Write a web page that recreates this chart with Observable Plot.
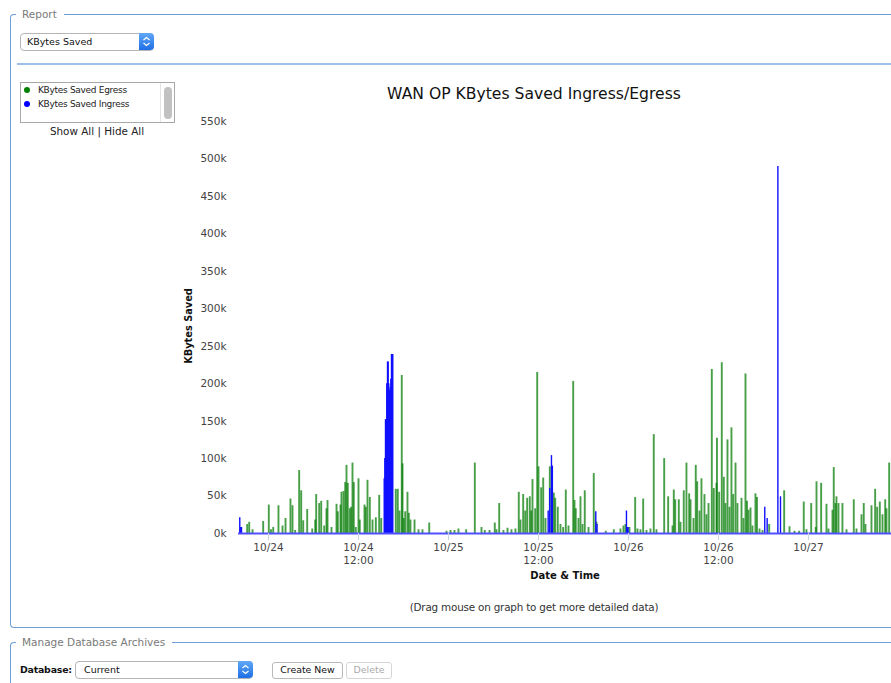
<!DOCTYPE html>
<html>
<head>
<meta charset="utf-8">
<script src="https://cdn.jsdelivr.net/npm/d3@7"></script>
<script src="https://cdn.jsdelivr.net/npm/@observablehq/plot@0.6"></script>
<style>
  body { margin:0; width:891px; height:683px; position:relative; overflow:hidden; background:#fff; font-family:"DejaVu Sans", sans-serif; color:#222; }
  .abs { position:absolute; }
  .fs { border:1px solid #6c9fd6; border-right:none; border-radius:4px 0 0 4px; box-sizing:border-box; }
  .legend { background:#fff; color:#7a7a7a; font-size:10.5px; line-height:14px; padding:0 7px 0 6px; white-space:nowrap; }
  .sel { border:1px solid #b5b5b5; border-radius:4px; background:#fff; box-sizing:border-box; font-size:9.5px; line-height:15px; padding-left:6px; color:#111; white-space:nowrap; }
  .selbtn { position:absolute; right:-1px; top:-1px; width:15px; height:17px; border-radius:0 4px 4px 0; background:linear-gradient(#62a8f7,#1e6fe6); }
  .btn { border:1px solid #b9b9b9; border-radius:3px; background:#fff; box-sizing:border-box; font-size:9.4px; line-height:14px; text-align:center; white-space:nowrap; }
  #chart svg { overflow:visible; }
</style>
</head>
<body>
<!-- Report fieldset -->
<div class="abs fs" style="left:10px;top:14px;width:900px;height:614px;"></div>
<div class="abs legend" style="left:16px;top:7px;">Report</div>
<div class="abs sel" style="left:20px;top:33px;width:134px;height:18px;">KBytes Saved
  <div class="selbtn"><svg width="15" height="17"><path d="M4.5 7 L7.5 4.5 L10.5 7 M4.5 10 L7.5 12.5 L10.5 10" fill="none" stroke="#fff" stroke-width="1.2"/></svg></div>
</div>
<div class="abs" style="left:17px;top:63px;width:880px;height:2px;background:#9dc1e8;"></div>

<!-- legend box -->
<div class="abs" style="left:20px;top:82px;width:155px;height:41px;border:1px solid #a8a8a8;box-sizing:border-box;">
  <div class="abs" style="left:3px;top:4px;width:6px;height:6px;border-radius:3px;background:#008000;"></div>
  <div class="abs" style="left:17px;top:1px;font-size:9px;letter-spacing:-0.3px;line-height:12px;white-space:nowrap;color:#222;">KBytes Saved Egress</div>
  <div class="abs" style="left:3px;top:18px;width:6px;height:6px;border-radius:3px;background:#0000ff;"></div>
  <div class="abs" style="left:17px;top:15px;font-size:9px;letter-spacing:-0.3px;line-height:12px;white-space:nowrap;color:#222;">KBytes Saved Ingress</div>
  <div class="abs" style="left:139px;top:0;width:1px;height:39px;background:#e4e4e4;"></div>
  <div class="abs" style="left:143px;top:4px;width:8px;height:32px;border-radius:4px;background:#c1c1c1;"></div>
</div>
<div class="abs" style="left:97px;top:124px;transform:translateX(-50%);font-size:10.4px;line-height:14px;white-space:nowrap;color:#222;">Show All | Hide All</div>

<!-- chart texts -->
<div class="abs" style="left:534px;top:85px;transform:translateX(-50%);font-size:15.6px;line-height:18px;white-space:nowrap;color:#111;">WAN OP KBytes Saved Ingress/Egress</div>
<div class="abs" style="left:188px;top:326px;transform:translate(-50%,-50%) rotate(-90deg);font-size:9.8px;font-weight:bold;white-space:nowrap;color:#111;">KBytes Saved</div>
<div class="abs" style="left:565px;top:569px;transform:translateX(-50%);font-size:10px;font-weight:bold;line-height:14px;white-space:nowrap;color:#111;">Date &amp; Time</div>
<div class="abs" style="left:534px;top:600px;transform:translateX(-50%);font-size:10.4px;letter-spacing:-0.2px;line-height:14px;white-space:nowrap;color:#333;">(Drag mouse on graph to get more detailed data)</div>

<div id="chart" class="abs" style="left:0;top:110px;"></div>

<!-- Manage Database Archives fieldset -->
<div class="abs fs" style="left:10px;top:642px;width:900px;height:80px;"></div>
<div class="abs legend" style="left:16px;top:635px;">Manage Database Archives</div>
<div class="abs" style="left:20px;top:663px;font-size:9.4px;font-weight:bold;letter-spacing:-0.2px;line-height:14px;color:#111;">Database:</div>
<div class="abs sel" style="left:75px;top:661px;width:178px;height:18px;padding-left:8px;">Current
  <div class="selbtn"><svg width="15" height="17"><path d="M4.5 7 L7.5 4.5 L10.5 7 M4.5 10 L7.5 12.5 L10.5 10" fill="none" stroke="#fff" stroke-width="1.2"/></svg></div>
</div>
<div class="abs btn" style="left:272px;top:662px;width:71px;height:17px;color:#111;">Create New</div>
<div class="abs btn" style="left:346px;top:662px;width:46px;height:17px;color:#aaa;border-color:#d6d6d6;">Delete</div>

<script>
// Time axis: hours relative to 10/24 00:00
const startHour = -4;        // 10/23 20:00
const endHour = 83.07;       // ~10/27 11:00
const xTickHours = [0, 12, 24, 36, 48, 60, 72];
const yTicksK = [0, 50, 100, 150, 200, 250, 300, 350, 400, 450, 500, 550];

// KBytes Saved Egress: [hour, kbytes (thousands)]
const egress = [[-2.84,12],[-2.57,15],[-2.13,5],[-0.71,16],[0.04,38],[0.33,5],[0.63,8],[1.33,37],[1.87,10],[2.27,20],[2.93,46],[3.2,37],[3.56,4],[4.09,84],[4.36,57],[4.63,17],[5.16,32],[5.83,6],[6.23,18],[6.36,52],[6.76,40],[7.03,43],[7.43,10],[7.73,33],[7.87,44],[8.4,8],[9.07,39],[9.24,29],[9.6,38],[9.73,55],[10.0,56],[10.23,68],[10.4,91],[10.57,67],[10.84,33],[11.03,35],[11.2,94],[11.37,68],[11.64,8],[12.0,73],[12.17,18],[12.8,38],[12.97,35],[13.2,71],[13.51,48],[13.87,18],[14.31,21],[14.76,51],[15.03,20],
[16.97,59],[17.24,59],[17.47,30],[17.77,211],[17.87,93],[18.04,20],[18.23,29],[18.53,55],[18.71,27],[18.93,18],[19.47,18],[20.0,5],[20.53,5],[21.43,14],[23.73,3],[24.27,4],[24.8,4],[25.33,6],[26.36,5],[27.51,94],[28.4,8],[28.84,4],[29.47,4],[30.17,14],[30.4,5],[30.76,40],[31.33,4],[31.87,7],[32.4,5],[32.93,6],[33.37,55],[33.6,18],[33.96,52],[34.23,30],[34.49,47],[34.84,49],[35.03,30],[35.2,72],[35.56,33],[35.83,215],[36.0,89],[36.36,61],[36.63,74],[36.93,20],[37.51,89],[38.04,54],[38.23,47],[38.57,35],[38.93,12],[39.29,8],[39.64,58],[40.0,10],[40.63,203],[40.8,44],[40.97,33],[41.33,20],[41.6,49],[41.87,12],[42.17,57],[42.67,8],[43.37,80],[43.73,15],[44.97,3],[46.04,5],[46.93,6],[47.33,10],[47.6,12],[48.13,8],[48.89,48],[49.2,6],[49.6,5],[49.96,46],[50.4,4],[50.93,6],[51.37,132],[51.73,5],[52.76,100],[53.29,49],[53.87,10],[54.04,58],[54.23,45],[54.71,45],[54.93,15],[55.37,57],[55.73,94],[56.09,53],[56.27,45],[56.67,20],[56.97,91],[57.16,69],[57.47,30],[57.73,73],[58.13,52],[58.4,25],[58.67,40],[59.11,219],[59.37,60],[59.73,67],[59.8,127],[60.09,55],[60.44,228],[60.71,75],[60.93,40],[61.2,125],[61.47,35],[61.73,141],[61.96,52],[62.27,94],[62.53,40],[63.07,47],[63.33,20],[63.6,213],[63.8,43],[64.0,31],[64.27,34],[64.53,10],[64.93,53],[65.13,48],[65.47,6],[65.87,4],[66.76,12],[68.76,57],[69.47,9],[70.13,3],[70.76,3],[71.37,42],[71.73,5],[72.36,40],[72.97,8],[73.07,69],[73.69,67],[74.4,39],[74.67,6],[75.2,31],[75.37,88],[75.6,40],[75.73,49],[76.0,40],[76.53,40],[77.07,5],[78.04,45],[78.4,6],[79.07,25],[79.37,40],[79.6,12],[80.4,37],[80.89,59],[81.16,35],[81.51,42],[81.87,25],[82.23,45],[82.4,33],[82.76,94]];

// KBytes Saved Ingress: [hour, kbytes (thousands)]
const ingress = [[-3.83,21],[-3.7,8],[-3.6,8],[15.43,73],[15.51,100],[15.6,152],[15.69,152],[15.77,200],[15.87,229],[15.96,229],[16.04,200],[16.13,191],[16.23,195],[16.31,206],[16.4,239],[16.49,239],[16.57,239],[37.29,30],[37.5,60],[37.73,104],[37.85,90],[43.64,29],[43.8,12],[47.73,30],[47.85,8],[47.95,8],[66.17,35],[66.49,20],[67.92,490],[68.27,49]];

const T0 = Date.UTC(2016, 9, 24, 0);
const H = 3600e3;
const toDate = h => new Date(T0 + h * H);
const eg = egress.map(([h, k]) => ({t: toDate(h), v: k * 1000}));
const ing = ingress.map(([h, k]) => ({t: toDate(h), v: k * 1000}));
const fmtX = d => {
  const mm = d.getUTCMonth() + 1, dd = d.getUTCDate();
  const base = mm + "/" + dd;
  return d.getUTCHours() === 12 ? base + "\n12:00" : base;
};

const chart = Plot.plot({
  width: 891, height: 460,
  marginLeft: 238, marginRight: 0, marginTop: 11, marginBottom: 37,
  style: {fontFamily: "DejaVu Sans", fontSize: "10.5px", color: "#444", background: "transparent"},
  x: {type: "utc", domain: [toDate(startHour), toDate(endHour)]},
  y: {domain: [0, 550000]},
  marks: [
    Plot.ruleX(eg, {x: "t", y1: 0, y2: "v", stroke: "#007a00", strokeWidth: 1.9, strokeOpacity: 0.72}),
    Plot.ruleX(ing, {x: "t", y1: 0, y2: "v", stroke: "#1010ff", strokeWidth: 1.4}),
    Plot.ruleY([0], {stroke: "#5050ff", strokeWidth: 2}),
    Plot.axisY({ticks: yTicksK.map(k => k * 1000), tickFormat: d => (d / 1000) + "k", tickSize: 0, tickPadding: 12, label: null, fill: "#444"}),
    Plot.axisX({ticks: xTickHours.map(toDate), tickFormat: fmtX, tickSize: 7, tickPadding: 2, stroke: "#c9d5e1", fill: "#444", label: null, lineHeight: 1.2})
  ]
});
document.getElementById("chart").appendChild(chart);
</script>
</body>
</html>
